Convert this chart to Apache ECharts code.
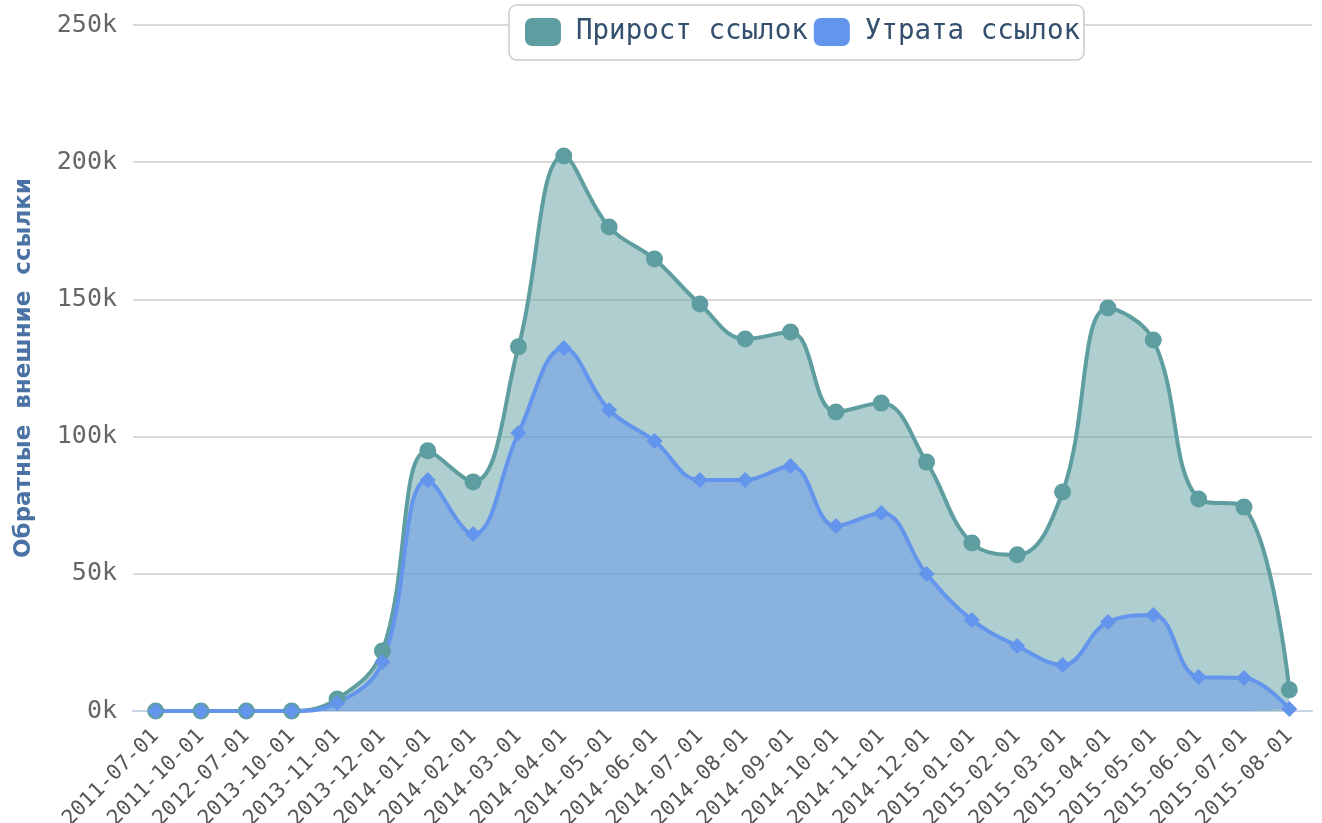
<!DOCTYPE html>
<html>
<head>
<meta charset="utf-8">
<script src="https://cdn.jsdelivr.net/npm/echarts@6/dist/echarts.min.js"></script>
<style>
  html, body { margin: 0; padding: 0; background: #fff; }
  #chart { width: 1322px; height: 823px; }
</style>
</head>
<body>
<div id="chart"></div>
<script>
const categories = ['2011-07-01','2011-10-01','2012-07-01','2013-10-01','2013-11-01','2013-12-01',
  '2014-01-01','2014-02-01','2014-03-01','2014-04-01','2014-05-01','2014-06-01','2014-07-01',
  '2014-08-01','2014-09-01','2014-10-01','2014-11-01','2014-12-01','2015-01-01','2015-02-01',
  '2015-03-01','2015-04-01','2015-05-01','2015-06-01','2015-07-01','2015-08-01'];
const gainData = [0, 0, 0, 0, 4400, 21900, 94800, 83500, 132700, 202300, 176400, 164700, 148300,
  135600, 138100, 109000, 112200, 90700, 61200, 56900, 79800, 146900, 135200, 77300, 74300, 7700];
const lossData = [0, 0, 0, 0, 2900, 17900, 84200, 64500, 101300, 132300, 109700, 98400, 84200,
  84200, 89300, 67400, 72200, 49900, 33200, 23700, 16800, 32400, 35000, 12400, 12000, 700];
const legendNames = ['Прирост ссылок', 'Утрата ссылок'];
const yTitle = 'Обратные  внешние  ссылки';

const mono = 'DejaVu Sans Mono';
const chart = echarts.init(document.getElementById('chart'));

const option = {
  backgroundColor: '#ffffff',
  animation: false,
  color: ['#5f9ea0', '#6495ed'],
  legend: {
    data: legendNames,
    left: 509,
    top: 5,
    padding: [13, 4, 14, 16],
    borderColor: '#cccccc',
    borderWidth: 1.5,
    borderRadius: 8,
    backgroundColor: '#ffffff',
    icon: 'roundRect',
    itemWidth: 36,
    itemHeight: 28,
    itemGap: 6,
    textStyle: { fontFamily: mono, fontSize: 27.5, color: '#34506e', padding: [10, 0, 0, 10] }
  },
  grid: { left: 133, right: 10, top: 25, bottom: 112, outerBoundsMode: 'none' },
  xAxis: {
    type: 'category',
    data: categories,
    boundaryGap: true,
    axisLine: { lineStyle: { color: '#c6d4e6', width: 2 } },
    axisTick: { length: 10, lineStyle: { color: '#c6d4e6', width: 2 } },
    axisLabel: { rotate: 45, interval: 0, fontFamily: mono, fontSize: 21, color: '#555555', margin: 22 }
  },
  yAxis: {
    type: 'value',
    min: 0,
    max: 250000,
    interval: 50000,
    name: yTitle,
    nameLocation: 'middle',
    nameGap: 97,
    nameTextStyle: { fontFamily: 'DejaVu Sans', fontWeight: 'bold', fontSize: 23, color: '#4a72a4' },
    axisLine: { show: false },
    axisTick: { show: false },
    axisLabel: {
      fontFamily: mono, fontSize: 25, color: '#666666', margin: 16,
      formatter: v => (v / 1000) + 'k'
    },
    splitLine: { lineStyle: { color: '#cccccc', width: 1.5 } }
  },
  series: [
    {
      name: legendNames[0],
      type: 'line',
      data: gainData,
      smooth: 0.4,
      symbol: 'circle',
      symbolSize: 17,
      lineStyle: { width: 4, color: '#5f9ea0' },
      itemStyle: { color: '#5f9ea0' },
      areaStyle: { color: '#5f9ea0', opacity: 0.5 }
    },
    {
      name: legendNames[1],
      type: 'line',
      data: lossData,
      smooth: 0.4,
      symbol: 'diamond',
      symbolSize: 16,
      lineStyle: { width: 4, color: '#6495ed' },
      itemStyle: { color: '#6495ed' },
      areaStyle: { color: '#6495ed', opacity: 0.5 }
    }
  ]
};

chart.setOption(option);
</script>
</body>
</html>
